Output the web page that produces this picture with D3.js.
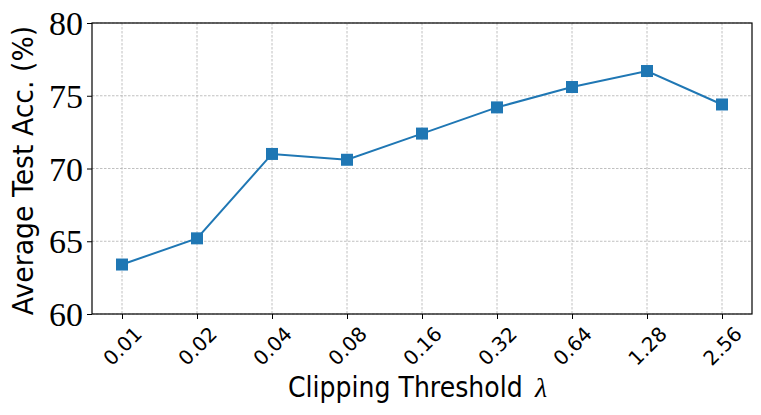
<!DOCTYPE html>
<html><head><meta charset="utf-8">
<script src="https://cdn.jsdelivr.net/npm/d3@7"></script>
<style>body{margin:0;background:#fff}</style>
</head><body>
<svg id="c" width="761" height="415"></svg>
<script>
const categories = ["0.01","0.02","0.04","0.08","0.16","0.32","0.64","1.28","2.56"];
const accuracy = [63.4, 65.2, 71.0, 70.6, 72.4, 74.2, 75.6, 76.7, 74.4];
const yTicks = [60, 65, 70, 75, 80];

const svg = d3.select("#c");
const L = 92, R = 752, T = 23, B = 314;
const x = d3.scalePoint().domain(categories).range([L, R]).padding(0.4);
const y = d3.scaleLinear().domain([60, 80]).range([B, T]);

// grid
const g = svg.append("g");
g.selectAll(".vg").data(categories).enter().append("line")
  .attr("x1", d => x(d)).attr("x2", d => x(d)).attr("y1", T).attr("y2", B)
  .attr("stroke", "#b0b0b0").attr("stroke-width", 0.8).attr("stroke-dasharray", "2.5,1.5");
g.selectAll(".hg").data(yTicks).enter().append("line")
  .attr("x1", L).attr("x2", R).attr("y1", d => y(d)).attr("y2", d => y(d))
  .attr("stroke", "#b0b0b0").attr("stroke-width", 0.8).attr("stroke-dasharray", "2.5,1.5");

// axes
const xa = svg.append("g").attr("transform", `translate(0,${B})`)
  .call(d3.axisBottom(x).tickSize(5).tickSizeOuter(0));
xa.select(".domain").remove();
xa.selectAll("line").attr("stroke", "#000").attr("stroke-width", 1);
xa.selectAll("text")
  .attr("font-family", "'DejaVu Sans', sans-serif").attr("font-size", 20).attr("fill", "#000")
  .attr("text-anchor", "middle").attr("y", 0).attr("x", 0).attr("dy", "0.35em")
  .attr("transform", "translate(0,32) rotate(-45)");

const ya = svg.append("g").attr("transform", `translate(${L},0)`)
  .call(d3.axisLeft(y).tickValues(yTicks).tickSize(5).tickSizeOuter(0));
ya.select(".domain").remove();
ya.selectAll("line").attr("stroke", "#000").attr("stroke-width", 1);
ya.selectAll("text")
  .attr("font-family", "'Liberation Serif', 'DejaVu Serif', serif").attr("font-size", 34).attr("fill", "#000")
  .attr("x", -9).attr("dy", "0.34em");

// frame
svg.append("rect").attr("x", L).attr("y", T).attr("width", R - L).attr("height", B - T)
  .attr("fill", "none").attr("stroke", "#000").attr("stroke-width", 1.2);

// line
const line = d3.line().x((d, i) => x(categories[i])).y(d => y(d));
svg.append("path").datum(accuracy).attr("d", line)
  .attr("fill", "none").attr("stroke", "#1f77b4").attr("stroke-width", 2);
const ms = 12;
svg.selectAll(".m").data(accuracy).enter().append("rect")
  .attr("x", (d, i) => x(categories[i]) - ms / 2).attr("y", d => y(d) - ms / 2)
  .attr("width", ms).attr("height", ms).attr("fill", "#1f77b4");

// labels
svg.append("text").attr("transform", `translate(33,${(T + B) / 2 + 2}) rotate(-90) scale(0.92,1)`)
  .attr("text-anchor", "middle").attr("font-family", "'DejaVu Sans', sans-serif")
  .attr("font-size", 29).attr("fill", "#000")
  .text("Average Test Acc. (%)");

svg.append("text").attr("transform", "translate(288,397) scale(0.9,1)")
  .attr("text-anchor", "start").attr("font-family", "'DejaVu Sans', sans-serif")
  .attr("font-size", 28).attr("fill", "#000")
  .text("Clipping Threshold");
svg.append("text").attr("x", 535).attr("y", 397)
  .attr("text-anchor", "start").attr("font-family", "'Liberation Serif', serif")
  .attr("font-style", "italic").attr("font-size", 28).attr("fill", "#000")
  .text("λ");
</script>
</body></html>
